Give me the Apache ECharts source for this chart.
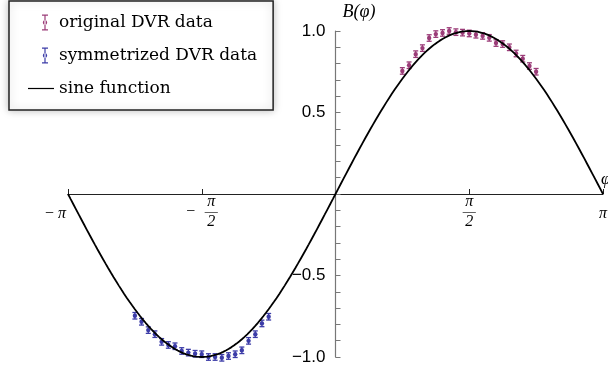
<!DOCTYPE html>
<html>
<head>
<meta charset="utf-8">
<style>
  html, body { margin: 0; padding: 0; background: #fff; }
  #chart { width: 608px; height: 375px; }
</style>
<script src="https://cdn.jsdelivr.net/npm/echarts@6/dist/echarts.min.js"></script>
</head>
<body>
<div id="chart"></div>
<script>
// original DVR data (phi in rad, B)
const origPhi = [0.785, 0.864, 0.942, 1.021, 1.100, 1.178, 1.257, 1.335, 1.414, 1.492, 1.571,
  1.649, 1.728, 1.806, 1.885, 1.963, 2.042, 2.121, 2.199, 2.278, 2.356]
const origB = [0.755, 0.79, 0.858, 0.895, 0.957, 0.981, 0.988, 1.0, 0.993, 0.99, 0.985,
  0.977, 0.97, 0.958, 0.926, 0.92, 0.9, 0.862, 0.83, 0.785, 0.75]
const origErr = 0.02

// symmetrized DVR data
const symPhi = [-2.356, -2.278, -2.199, -2.121, -2.042, -1.963, -1.885, -1.806, -1.728, -1.649, -1.571,
  -1.492, -1.414, -1.335, -1.257, -1.178, -1.100, -1.021, -0.942, -0.864, -0.785]
const symB = [-0.747, -0.784, -0.835, -0.86, -0.907, -0.926, -0.934, -0.963, -0.973, -0.98, -0.983,
  -1.0, -1.0, -1.005, -0.994, -0.983, -0.959, -0.901, -0.86, -0.794, -0.753]
const symErr = 0.02

const xTicks = [-Math.PI, -Math.PI / 2, Math.PI / 2, Math.PI]
const xTickLabels = [
  '{e| }\n{m2|−}{n|π}{pad| }',
  '{sp| }{n|π}\n{m|−}{bar|—}\n{sp| }{n|2}',
  '{n|π}\n{bar|—}\n{n|2}',
  '{e| }\n{n|π}'
]
const yLabels = [-1, -0.5, 0.5, 1]

// sine function curve
const sinePts = []
for (let i = 0; i <= 200; i++) {
  const x = -Math.PI + (2 * Math.PI * i) / 200
  sinePts.push([x, Math.sin(x)])
}

const purple = '#9b3c78'
const blue = '#3c3ca8'
const errIcon = 'path://M-8,8h0.01v0.01h-0.01Z M0,0H6V1.3H0Z M2.4,0H3.6V16H2.4Z M0,14.7H6V16H0Z M0.8,8a2.2,2.2 0 1,0 4.4,0a2.2,2.2 0 1,0 -4.4,0Z'

// grid box: axes cross at the centre
const gridL = 68, gridR = 5, gridT = 31, gridB = 18
const plotW = 608 - gridL - gridR
const plotH = 375 - gridT - gridB

function errorBars(err) {
  return function (params, api) {
    const x = api.value(0)
    const y = api.value(1)
    const c = api.coord([x, y])
    const top = api.coord([x, y + err])
    const bot = api.coord([x, y - err])
    const color = api.visual('color')
    const st = { stroke: color, lineWidth: 1.3 }
    return {
      type: 'group',
      children: [
        { type: 'line', shape: { x1: c[0], y1: top[1], x2: c[0], y2: bot[1] }, style: st },
        { type: 'line', shape: { x1: c[0] - 2.5, y1: top[1], x2: c[0] + 2.5, y2: top[1] }, style: st },
        { type: 'line', shape: { x1: c[0] - 2.5, y1: bot[1], x2: c[0] + 2.5, y2: bot[1] }, style: st },
        { type: 'circle', shape: { cx: c[0], cy: c[1], r: 2.2 }, style: { fill: color } }
      ]
    }
  }
}

const chart = echarts.init(document.getElementById('chart'))
const serif = 'Liberation Serif'

chart.setOption({
  animation: false,
  legend: {
    orient: 'vertical',
    left: 9,
    top: 1,
    padding: [13, 16, 13, 19],
    itemGap: 16,
    itemWidth: 26,
    itemHeight: 16,
    borderColor: '#222',
    borderWidth: 1.5,
    backgroundColor: '#fff',
    shadowBlur: 8,
    shadowColor: 'rgba(0,0,0,0.25)',
    textStyle: { fontFamily: 'DejaVu Serif', fontSize: 17, color: '#000' },
    data: [
      { name: 'original DVR data', icon: errIcon, itemStyle: { color: purple } },
      { name: 'symmetrized DVR data', icon: errIcon, itemStyle: { color: blue } },
      { name: 'sine function', icon: 'path://M0,7.4H26V8.6H0Z', itemStyle: { color: '#000' } }
    ]
  },
  grid: { left: gridL, right: gridR, top: gridT, bottom: gridB, outerBoundsMode: 'none' },
  xAxis: {
    type: 'value',
    min: -Math.PI,
    max: Math.PI,
    offset: -plotH / 2,
    name: 'φ',
    nameLocation: 'end',
    nameGap: -2,
    nameTextStyle: { fontFamily: serif, fontStyle: 'italic', fontSize: 17, color: '#000', align: 'left', verticalAlign: 'bottom', padding: [0, 0, 6, 0] },
    axisLine: { onZero: false, lineStyle: { color: '#222', width: 1.2 } },
    axisTick: { show: true, inside: true, length: 5, customValues: xTicks, lineStyle: { color: '#222' } },
    axisLabel: {
      customValues: xTicks,
      margin: 2,
      formatter: function (v) {
        let k = 0
        xTicks.forEach(function (t, i) { if (Math.abs(t - v) < 1e-6) k = i })
        return xTickLabels[k]
      },
      rich: {
        n: { fontFamily: serif, fontStyle: 'italic', fontSize: 16, color: '#000', width: 12, align: 'center', lineHeight: 12 },
        m: { fontFamily: serif, fontSize: 16, color: '#000', width: 19, align: 'left', lineHeight: 8 },
        m2: { fontFamily: serif, fontSize: 16, color: '#000', width: 11, align: 'left', lineHeight: 12 },
        sp: { width: 19, lineHeight: 12 },
        e: { width: 1, lineHeight: 12 },
        pad: { width: 23, lineHeight: 12 },
        bar: { fontFamily: serif, fontSize: 13, color: '#000', width: 12, align: 'center', lineHeight: 8 }
      }
    },
    splitLine: { show: false }
  },
  yAxis: {
    type: 'value',
    min: -1,
    max: 1,
    interval: 0.1,
    offset: -plotW / 2,
    name: 'B(φ)',
    nameLocation: 'end',
    nameGap: 10,
    nameTextStyle: { fontFamily: serif, fontStyle: 'italic', fontSize: 18, color: '#000', align: 'left', padding: [0, 0, 0, 7] },
    axisLine: { onZero: false, lineStyle: { color: '#777', width: 1.2 } },
    axisTick: { show: true, inside: true, length: 5, lineStyle: { color: '#777' } },
    axisLabel: {
      margin: 10,
      fontFamily: 'Liberation Sans',
      fontSize: 17,
      color: '#000',
      formatter: function (v) {
        const hit = yLabels.find(function (l) { return Math.abs(l - v) < 1e-6 })
        if (hit === undefined) return ''
        return hit.toFixed(1).replace('-', '−')
      }
    },
    splitLine: { show: false }
  },
  series: [
    {
      name: 'original DVR data',
      type: 'custom',
      color: purple,
      z: 2,
      renderItem: errorBars(origErr),
      data: origPhi.map(function (p, i) { return [p, origB[i]] })
    },
    {
      name: 'symmetrized DVR data',
      type: 'custom',
      color: blue,
      z: 2,
      renderItem: errorBars(symErr),
      data: symPhi.map(function (p, i) { return [p, symB[i]] })
    },
    {
      name: 'sine function',
      type: 'line',
      color: '#000',
      z: 3,
      showSymbol: false,
      lineStyle: { width: 1.8, color: '#000' },
      data: sinePts
    }
  ]
})
</script>
</body>
</html>
